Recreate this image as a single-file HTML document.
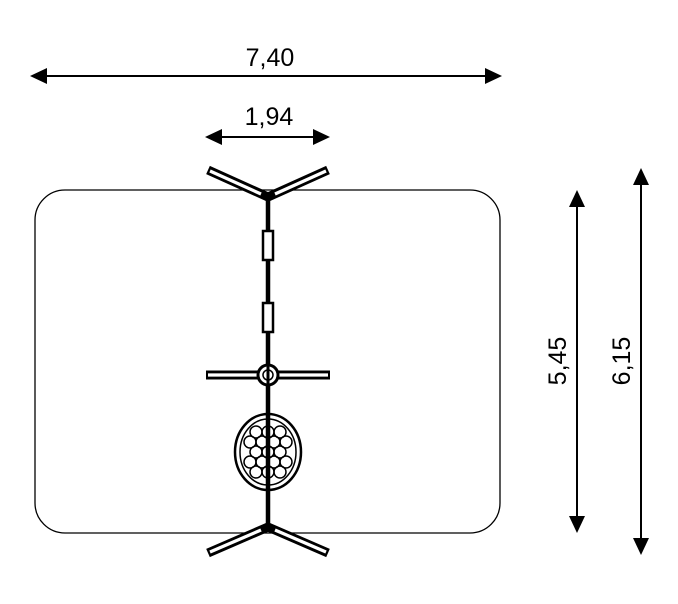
<!DOCTYPE html>
<html><head><style>html,body{margin:0;padding:0;background:#fff}</style></head>
<body>
<svg width="678" height="599" viewBox="0 0 678 599" xmlns="http://www.w3.org/2000/svg" font-family="Liberation Sans, Arial, sans-serif">
<rect width="678" height="599" fill="#fff"/>
<rect x="35" y="190" width="465" height="343" rx="30" fill="none" stroke="#000" stroke-width="1.3"/>
<g stroke="#000" stroke-width="2">
<line x1="44" y1="76" x2="488" y2="76"/>
<line x1="220" y1="137" x2="315" y2="137"/>
<line x1="577" y1="205" x2="577" y2="518"/>
<line x1="641" y1="183" x2="641" y2="540"/>
</g>
<g fill="#000">
<polygon points="30,76 47,68 47,84"/><polygon points="502,76 485,68 485,84"/>
<polygon points="205,137 222,129 222,145"/><polygon points="330,137 313,129 313,145"/>
<polygon points="577,190 569,207 585,207"/><polygon points="577,533 569,516 585,516"/>
<polygon points="641,168 633,185 649,185"/><polygon points="641,555 633,538 649,538"/>
</g>
<g font-size="25" fill="#000" text-anchor="middle">
<text x="270" y="66">7,40</text>
<text x="269" y="125">1,94</text>
<text transform="translate(566,361) rotate(-90)">5,45</text>
<text transform="translate(630,361) rotate(-90)">6,15</text>
</g>
<g stroke-linecap="butt">
<g stroke="#000" stroke-width="9">
<line x1="268" y1="197" x2="208" y2="170"/><line x1="268" y1="197" x2="328" y2="170"/>
<line x1="268" y1="527" x2="208" y2="553"/><line x1="268" y1="527" x2="328" y2="553"/>
<line x1="206" y1="375" x2="330" y2="375"/>
</g>
<g stroke="#fff" stroke-width="3.2">
<line x1="261" y1="194" x2="210" y2="171"/><line x1="275" y1="194" x2="326" y2="171"/>
<line x1="261" y1="530" x2="210" y2="552"/><line x1="275" y1="530" x2="326" y2="552"/>
<line x1="208" y1="375" x2="328" y2="375"/>
</g>
</g>
<line x1="268" y1="196" x2="268" y2="528" stroke="#000" stroke-width="4.5"/>
<rect x="263" y="231" width="10" height="29" fill="#fff" stroke="#000" stroke-width="2.5"/>
<rect x="263" y="303" width="10" height="29" fill="#fff" stroke="#000" stroke-width="2.5"/>
<circle cx="268" cy="375" r="10" fill="#fff" stroke="#000" stroke-width="3"/>
<circle cx="268" cy="375" r="5" fill="none" stroke="#000" stroke-width="1.5"/>
<line x1="268" y1="364" x2="268" y2="386" stroke="#000" stroke-width="3"/>
<ellipse cx="268" cy="452" rx="33" ry="38" fill="#fff" stroke="#000" stroke-width="2.5"/>
<ellipse cx="268" cy="452" rx="28" ry="33" fill="none" stroke="#000" stroke-width="1.5"/>
<g fill="none" stroke="#000" stroke-width="1.5">
<circle cx="256" cy="432" r="6"/><circle cx="268" cy="432" r="6"/><circle cx="280" cy="432" r="6"/>
<circle cx="250" cy="442" r="6"/><circle cx="262" cy="442" r="6"/><circle cx="274" cy="442" r="6"/><circle cx="286" cy="442" r="6"/>
<circle cx="256" cy="452" r="6"/><circle cx="268" cy="452" r="6"/><circle cx="280" cy="452" r="6"/>
<circle cx="250" cy="462" r="6"/><circle cx="262" cy="462" r="6"/><circle cx="274" cy="462" r="6"/><circle cx="286" cy="462" r="6"/>
<circle cx="256" cy="472" r="6"/><circle cx="268" cy="472" r="6"/><circle cx="280" cy="472" r="6"/>
</g>
<line x1="268" y1="414" x2="268" y2="490" stroke="#000" stroke-width="4.5"/>
</svg>
</body></html>
